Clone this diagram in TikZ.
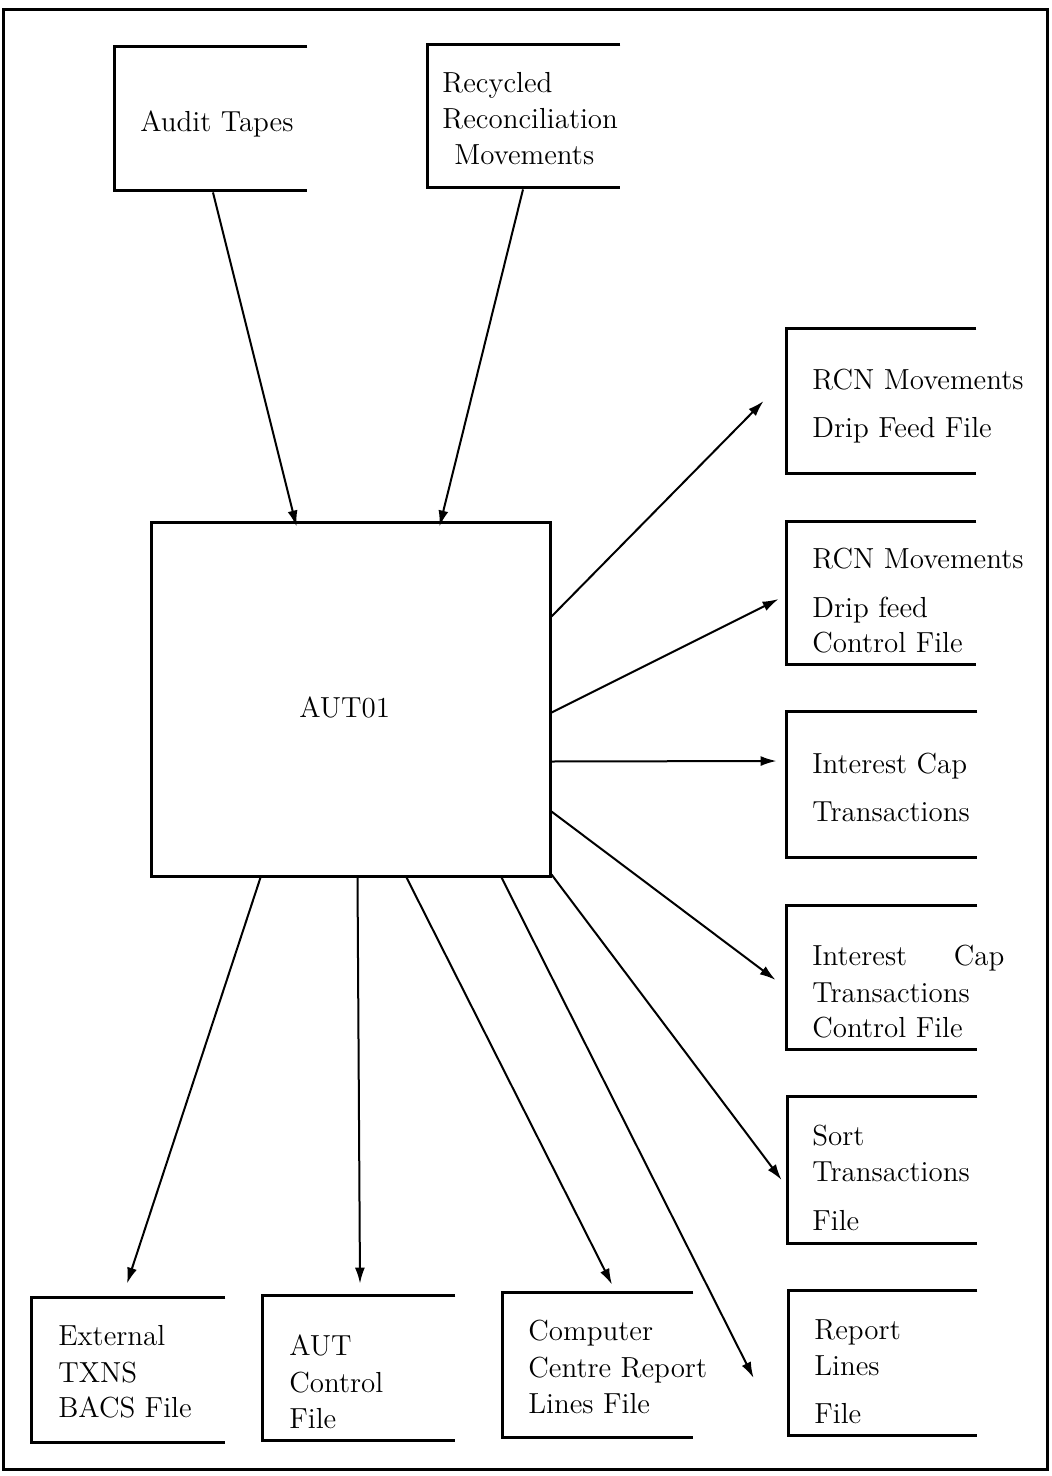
\documentclass[tikz,border=0pt]{standalone}
\usetikzlibrary{arrows.meta,calc}
\begin{document}
\begin{tikzpicture}[x=0.5pt,y=-0.5pt,
  every node/.style={font=\fontsize{14.5}{17}\selectfont, inner sep=0pt},
  storebox/.style={rectangle, inner sep=0pt, draw=none},
  storeline/.style={line width=1.5pt, line join=miter},
  procbox/.style={rectangle, draw, line width=1.5pt, inner sep=0pt},
  lbl/.style={anchor=base west},
  flow/.style={line width=1pt, -{Latex[length=8pt,width=5pt]}},
  frame/.style={line width=1.5pt}]
\useasboundingbox (0,0) rectangle (1051,1476);
\draw[frame] (3,10) rectangle (1047,1469);

% data stores (open on the right)
\node[storebox, minimum width=96pt,   minimum height=71.5pt] (audit)  at (211,118.5) {};
\node[storebox, minimum width=96pt,   minimum height=71pt]   (recyc)  at (524,116) {};
\node[storebox, minimum width=94.5pt, minimum height=72pt]   (rcnA)   at (881.5,401) {};
\node[storebox, minimum width=94.5pt, minimum height=71pt]   (rcnB)   at (881.5,593) {};
\node[storebox, minimum width=95pt,   minimum height=72.5pt] (icap)   at (882,784.5) {};
\node[storebox, minimum width=95pt,   minimum height=71.5pt] (icapc)  at (882,977.5) {};
\node[storebox, minimum width=94.5pt, minimum height=73pt]   (sort)   at (882.5,1170) {};
\node[storebox, minimum width=94pt,   minimum height=72pt]   (report) at (883,1363) {};
\node[storebox, minimum width=96.5pt, minimum height=72pt]   (ext)    at (128.5,1370) {};
\node[storebox, minimum width=96pt,   minimum height=72pt]   (autc)   at (359,1368) {};
\node[storebox, minimum width=95pt,   minimum height=72pt]   (comp)   at (598,1365) {};
\foreach \n in {audit,recyc,rcnA,rcnB,icap,icapc,sort,report,ext,autc,comp}
  \draw[storeline] (\n.north east) -- (\n.north west) -- (\n.south west) -- (\n.south east);

% process
\node[procbox, minimum width=199.5pt, minimum height=177pt] (main) at (350.5,699) {};
\node[lbl] (mainT) at (299,717) {AUT01};

% texts
\node[lbl] (audit1) at (140,132) {Audit Tapes};
\node[lbl] (recyc1) at (442,93) {Recycled};
\node[lbl] (recyc2) at (442,129) {Reconciliation};
\node[lbl] (recyc3) at (454,165) {Movements};
\node[lbl] (rcnA1) at (812,389) {RCN Movements};
\node[lbl] (rcnA2) at (812,437) {Drip Feed File};
\node[lbl] (rcnB1) at (812,568) {RCN Movements};
\node[lbl] (rcnB2) at (812,617) {Drip feed};
\node[lbl] (rcnB3) at (812,652) {Control File};
\node[lbl] (icap1) at (812,773) {Interest Cap};
\node[lbl] (icap2) at (812,821) {Transactions};
\node[lbl] (icapc1) at (812,965) {\hbox to 96pt{Interest\hfill Cap}};
\node[lbl] (icapc2) at (812,1002) {Transactions};
\node[lbl] (icapc3) at (812,1037) {Control File};
\node[lbl] (sort1) at (812,1145) {Sort};
\node[lbl] (sort2) at (812,1181) {Transactions};
\node[lbl] (sort3) at (812,1230) {File};
\node[lbl] (report1) at (814,1339) {Report};
\node[lbl] (report2) at (814,1375) {Lines};
\node[lbl] (report3) at (814,1423) {File};
\node[lbl] (ext1) at (58,1345) {External};
\node[lbl] (ext2) at (58,1382) {TXNS};
\node[lbl] (ext3) at (58,1417) {BACS File};
\node[lbl] (autc1) at (289,1355) {AUT};
\node[lbl] (autc2) at (289,1392) {Control};
\node[lbl] (autc3) at (289,1428) {File};
\node[lbl] (comp1) at (528,1340) {Computer};
\node[lbl] (comp2) at (528,1377) {Centre Report};
\node[lbl] (comp3) at (528,1413) {Lines File};

% flows
\draw[flow] ($(audit.south)+(2,2)$) -- ($(main.north west)+(147,6)$);
\draw[flow] ($(recyc.south)+(-1,2)$) -- ($(main.north west)+(290,6)$);
\draw[flow] ($(main.north east)+(0,96)$) -- ($(rcnA.west)+(-23,0)$);
\draw[flow] ($(main.north east)+(0,192)$) -- ($(rcnB.west)+(-8,6)$);
\draw[flow] ($(main.north east)+(0,241)$) -- ($(icap.west)+(-10,-23.5)$);
\draw[flow] ($(main.north east)+(0,291)$) -- ($(icapc.west)+(-11,2.5)$);
\draw[flow] ($(main.south east)+(0,-3)$) -- ($(sort.west)+(-6,10)$);
\draw[flow] ($(main.south west)+(352,0)$) -- ($(report.west)+(-35,15)$);
\draw[flow] ($(main.south west)+(257,0)$) -- ($(comp.north)+(14,-8)$);
\draw[flow] ($(main.south west)+(208,0)$) -- ($(autc.north)+(1,-12)$);
\draw[flow] ($(main.south west)+(111,0)$) -- ($(ext.north)+(-1.5,-14)$);
\end{tikzpicture}
\end{document}
